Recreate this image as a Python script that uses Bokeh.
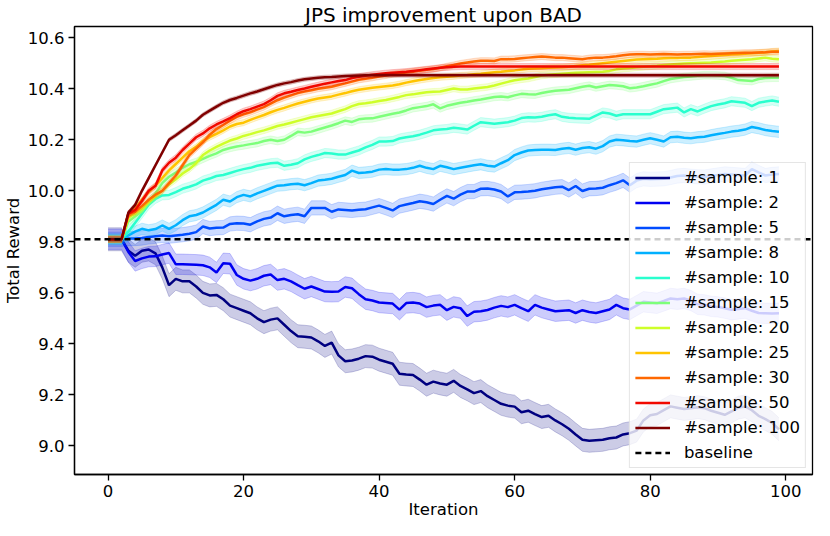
from bokeh.plotting import figure
from bokeh.models import (Range1d, Legend, LegendItem, ColumnDataSource,
                          FixedTicker, NumeralTickFormatter, Title)
from bokeh.embed import file_html
from bokeh.resources import INLINE

# ---------------- data ----------------
iterations = list(range(100))
sample_counts = [1, 2, 5, 8, 10, 15, 20, 25, 30, 50, 100]
baseline_reward = 9.81
x_ticks = [0, 20, 40, 60, 80, 100]
y_ticks = [9.0, 9.2, 9.4, 9.6, 9.8, 10.0, 10.2, 10.4, 10.6]

reward_s1 = [9.81, 9.81, 9.81, 9.765, 9.745, 9.765, 9.77, 9.755, 9.70, 9.63,
             9.655, 9.645, 9.645, 9.625, 9.60, 9.59, 9.592, 9.575, 9.55, 9.54,
             9.53, 9.52, 9.50, 9.485, 9.495, 9.50, 9.475, 9.45, 9.43, 9.428,
             9.425, 9.41, 9.392, 9.405, 9.355, 9.332, 9.335, 9.342, 9.352, 9.35,
             9.338, 9.33, 9.322, 9.283, 9.28, 9.278, 9.26, 9.24, 9.252, 9.245,
             9.24, 9.255, 9.235, 9.222, 9.207, 9.215, 9.195, 9.18, 9.165, 9.158,
             9.154, 9.132, 9.138, 9.125, 9.113, 9.118, 9.10, 9.085, 9.067, 9.045,
             9.024, 9.02, 9.022, 9.024, 9.03, 9.033, 9.045, 9.05, 9.06, 9.10,
             9.12, 9.125, 9.14, 9.155, 9.15, 9.145, 9.148, 9.152, 9.148, 9.138,
             9.13, 9.122, 9.135, 9.15, 9.155, 9.14, 9.118, 9.105, 9.09, 9.065]
reward_s2 = [9.81, 9.81, 9.81, 9.76, 9.725, 9.735, 9.742, 9.743, 9.75, 9.756,
             9.712, 9.712, 9.711, 9.71, 9.708, 9.70, 9.68, 9.716, 9.714, 9.67,
             9.655, 9.648, 9.655, 9.667, 9.672, 9.65, 9.655, 9.645, 9.63, 9.616,
             9.625, 9.615, 9.605, 9.604, 9.605, 9.623, 9.618, 9.595, 9.575, 9.57,
             9.562, 9.56, 9.558, 9.534, 9.56, 9.562, 9.558, 9.544, 9.55, 9.553,
             9.532, 9.545, 9.54, 9.509, 9.526, 9.528, 9.533, 9.542, 9.549, 9.544,
             9.553, 9.54, 9.528, 9.553, 9.542, 9.535, 9.528, 9.53, 9.532, 9.521,
             9.532, 9.525, 9.521, 9.528, 9.535, 9.553, 9.54, 9.535, 9.55, 9.565,
             9.562, 9.559, 9.568, 9.578, 9.575, 9.578, 9.57, 9.555, 9.553, 9.547,
             9.545, 9.54, 9.534, 9.537, 9.54, 9.53, 9.521, 9.52, 9.519, 9.52]
reward_s5 = [9.81, 9.81, 9.81, 9.813, 9.813, 9.815, 9.819, 9.822, 9.825, 9.822,
             9.825, 9.828, 9.832, 9.838, 9.86, 9.852, 9.855, 9.856, 9.87, 9.873,
             9.872, 9.867, 9.88, 9.89, 9.895, 9.912, 9.90, 9.905, 9.908, 9.90,
             9.933, 9.933, 9.933, 9.918, 9.927, 9.925, 9.923, 9.926, 9.928, 9.935,
             9.942, 9.933, 9.923, 9.94, 9.946, 9.952, 9.959, 9.955, 9.948, 9.965,
             9.98, 9.969, 9.985, 9.997, 9.997, 10.008, 10.009, 10.005, 9.997, 9.978,
             9.994, 9.995, 9.997, 10.0, 10.006, 10.01, 10.014, 10.016, 10.003, 10.019,
             9.999, 10.008, 10.009, 10.012, 10.022, 10.03, 10.041, 10.022, 10.04, 10.047,
             10.045, 10.046, 10.047, 10.052, 10.058, 10.06, 10.057, 10.055, 10.054, 10.058,
             10.062, 10.066, 10.064, 10.062, 10.06, 10.085, 10.072, 10.06, 10.064, 10.066]
reward_s8 = [9.81, 9.81, 9.81, 9.825, 9.84, 9.851, 9.845, 9.85, 9.864, 9.851,
             9.865, 9.885, 9.90, 9.905, 9.915, 9.93, 9.945, 9.965, 9.958, 9.975,
             9.984, 9.978, 9.99, 10.0, 10.01, 10.02, 10.022, 10.026, 10.028, 10.022,
             10.03, 10.04, 10.043, 10.047, 10.055, 10.062, 10.079, 10.07, 10.072, 10.075,
             10.083, 10.085, 10.083, 10.083, 10.085, 10.09, 10.098, 10.09, 10.085, 10.098,
             10.092, 10.085, 10.09, 10.095, 10.10, 10.104, 10.098, 10.095, 10.108, 10.12,
             10.14, 10.15, 10.158, 10.16, 10.161, 10.161, 10.16, 10.165, 10.168, 10.161,
             10.168, 10.171, 10.165, 10.175, 10.193, 10.20, 10.198, 10.195, 10.193, 10.20,
             10.206, 10.20, 10.193, 10.21, 10.212, 10.208, 10.206, 10.21, 10.212, 10.218,
             10.223, 10.227, 10.232, 10.235, 10.24, 10.25, 10.245, 10.238, 10.234, 10.231]
reward_s10 = [9.81, 9.81, 9.81, 9.84, 9.875, 9.91, 9.945, 9.968, 9.982, 9.984,
              9.995, 10.008, 10.016, 10.025, 10.04, 10.048, 10.058, 10.062, 10.07, 10.078,
              10.085, 10.09, 10.098, 10.103, 10.108, 10.11, 10.098, 10.102, 10.108, 10.123,
              10.133, 10.14, 10.148, 10.146, 10.142, 10.142, 10.15, 10.158, 10.17, 10.18,
              10.193, 10.193, 10.195, 10.205, 10.21, 10.214, 10.22, 10.228, 10.237, 10.24,
              10.242, 10.247, 10.244, 10.24, 10.255, 10.269, 10.266, 10.263, 10.266, 10.269,
              10.275, 10.285, 10.288, 10.287, 10.29, 10.296, 10.30, 10.29, 10.286, 10.284,
              10.283, 10.282, 10.295, 10.307, 10.303, 10.294, 10.30, 10.30, 10.30, 10.30,
              10.30, 10.31, 10.32, 10.323, 10.326, 10.307, 10.32, 10.311, 10.322, 10.332,
              10.338, 10.343, 10.351, 10.348, 10.345, 10.332, 10.345, 10.35, 10.354, 10.349]
reward_s15 = [9.81, 9.81, 9.81, 9.88, 9.90, 9.92, 9.96, 9.99, 10.03, 10.055,
              10.072, 10.09, 10.104, 10.113, 10.125, 10.137, 10.147, 10.16, 10.168, 10.174,
              10.178, 10.183, 10.187, 10.195, 10.20, 10.195, 10.20, 10.215, 10.231, 10.228,
              10.232, 10.24, 10.248, 10.256, 10.265, 10.275, 10.27, 10.28, 10.283, 10.284,
              10.29, 10.296, 10.302, 10.307, 10.315, 10.324, 10.328, 10.332, 10.339, 10.323,
              10.333, 10.339, 10.345, 10.349, 10.354, 10.358, 10.363, 10.368, 10.37, 10.367,
              10.374, 10.38, 10.378, 10.377, 10.383, 10.388, 10.392, 10.394, 10.396, 10.402,
              10.408, 10.412, 10.405, 10.41, 10.415, 10.413, 10.41, 10.402, 10.405, 10.41,
              10.416, 10.421, 10.43, 10.438, 10.442, 10.446, 10.448, 10.451, 10.453, 10.453,
              10.452, 10.45, 10.443, 10.434, 10.432, 10.43, 10.438, 10.442, 10.443, 10.443]
reward_s20 = [9.81, 9.81, 9.81, 9.895, 9.91, 9.93, 9.955, 9.978, 10.0, 10.025,
              10.045, 10.068, 10.085, 10.108, 10.14, 10.158, 10.172, 10.185, 10.197, 10.205,
              10.215, 10.222, 10.23, 10.237, 10.245, 10.254, 10.26, 10.267, 10.274, 10.281,
              10.288, 10.293, 10.298, 10.303, 10.312, 10.32, 10.332, 10.34, 10.343, 10.347,
              10.352, 10.356, 10.362, 10.368, 10.375, 10.378, 10.382, 10.386, 10.388, 10.389,
              10.395, 10.401, 10.397, 10.397, 10.401, 10.404, 10.407, 10.413, 10.42, 10.427,
              10.433, 10.437, 10.44, 10.446, 10.452, 10.455, 10.457, 10.459, 10.461, 10.463,
              10.464, 10.465, 10.466, 10.467, 10.47, 10.476, 10.479, 10.481, 10.484, 10.486,
              10.488, 10.49, 10.493, 10.495, 10.497, 10.499, 10.50, 10.501, 10.502, 10.503,
              10.505, 10.507, 10.51, 10.512, 10.514, 10.516, 10.519, 10.522, 10.518, 10.516]
reward_s25 = [9.81, 9.81, 9.81, 9.90, 9.93, 9.965, 9.995, 10.02, 10.05, 10.08,
              10.105, 10.13, 10.155, 10.172, 10.195, 10.21, 10.223, 10.237, 10.252, 10.262,
              10.267, 10.278, 10.288, 10.297, 10.308, 10.317, 10.325, 10.334, 10.342, 10.349,
              10.356, 10.362, 10.366, 10.37, 10.377, 10.383, 10.39, 10.396, 10.40, 10.404,
              10.407, 10.41, 10.413, 10.418, 10.424, 10.429, 10.434, 10.438, 10.442, 10.445,
              10.447, 10.449, 10.452, 10.454, 10.457, 10.459, 10.462, 10.465, 10.467, 10.47,
              10.472, 10.475, 10.478, 10.479, 10.48, 10.482, 10.483, 10.484, 10.486, 10.489,
              10.492, 10.494, 10.497, 10.50, 10.503, 10.506, 10.509, 10.512, 10.515, 10.516,
              10.517, 10.518, 10.52, 10.521, 10.521, 10.522, 10.522, 10.524, 10.526, 10.528,
              10.53, 10.532, 10.534, 10.535, 10.537, 10.539, 10.541, 10.543, 10.546, 10.548]
reward_s30 = [9.81, 9.81, 9.81, 9.91, 9.918, 9.94, 9.965, 9.985, 10.0, 10.03,
              10.06, 10.10, 10.14, 10.165, 10.19, 10.22, 10.242, 10.258, 10.275, 10.29,
              10.30, 10.308, 10.318, 10.328, 10.342, 10.355, 10.365, 10.374, 10.383, 10.389,
              10.394, 10.40, 10.404, 10.408, 10.415, 10.421, 10.428, 10.435, 10.439, 10.443,
              10.448, 10.452, 10.457, 10.461, 10.464, 10.467, 10.471, 10.474, 10.477, 10.482,
              10.488, 10.493, 10.499, 10.503, 10.507, 10.51, 10.51, 10.509, 10.516, 10.516,
              10.517, 10.52, 10.522, 10.524, 10.526, 10.524, 10.522, 10.522, 10.52, 10.518,
              10.516, 10.52, 10.522, 10.522, 10.524, 10.527, 10.531, 10.534, 10.535, 10.535,
              10.534, 10.535, 10.536, 10.535, 10.534, 10.535, 10.535, 10.536, 10.537, 10.536,
              10.537, 10.538, 10.539, 10.54, 10.541, 10.541, 10.542, 10.543, 10.545, 10.545]
reward_s50 = [9.81, 9.81, 9.81, 9.91, 9.925, 9.96, 10.0, 10.02, 10.08, 10.11,
              10.13, 10.16, 10.185, 10.21, 10.225, 10.245, 10.26, 10.272, 10.285, 10.30,
              10.312, 10.32, 10.33, 10.34, 10.355, 10.372, 10.382, 10.388, 10.395, 10.401,
              10.408, 10.414, 10.42, 10.425, 10.43, 10.434, 10.442, 10.447, 10.451, 10.455,
              10.458, 10.461, 10.463, 10.465, 10.467, 10.47, 10.473, 10.476, 10.479, 10.482,
              10.484, 10.486, 10.487, 10.487, 10.487, 10.487, 10.487, 10.487, 10.487, 10.487,
              10.487, 10.487, 10.487, 10.487, 10.487, 10.487, 10.487, 10.487, 10.487, 10.487,
              10.487, 10.487, 10.487, 10.487, 10.487, 10.487, 10.487, 10.487, 10.487, 10.487,
              10.487, 10.487, 10.487, 10.487, 10.487, 10.487, 10.487, 10.487, 10.487, 10.487,
              10.487, 10.487, 10.487, 10.487, 10.487, 10.487, 10.487, 10.487, 10.487, 10.487]
reward_s100 = [9.81, 9.81, 9.81, 9.915, 9.945, 10.0, 10.05, 10.1, 10.15, 10.2,
               10.218, 10.237, 10.256, 10.275, 10.298, 10.314, 10.33, 10.345, 10.356, 10.364,
               10.373, 10.382, 10.389, 10.398, 10.407, 10.415, 10.421, 10.426, 10.432, 10.437,
               10.44, 10.443, 10.445, 10.446, 10.448, 10.45, 10.451, 10.452, 10.453, 10.453,
               10.453, 10.453, 10.453, 10.453, 10.453, 10.453, 10.453, 10.453, 10.453, 10.453,
               10.453, 10.453, 10.453, 10.453, 10.453, 10.453, 10.453, 10.453, 10.453, 10.453,
               10.453, 10.453, 10.453, 10.453, 10.453, 10.453, 10.453, 10.453, 10.453, 10.453,
               10.453, 10.453, 10.453, 10.453, 10.453, 10.453, 10.453, 10.453, 10.453, 10.453,
               10.453, 10.453, 10.453, 10.453, 10.453, 10.453, 10.453, 10.453, 10.453, 10.453,
               10.453, 10.453, 10.453, 10.453, 10.453, 10.453, 10.453, 10.453, 10.453, 10.453]

# half-width of the shaded confidence band of each series
band_halfwidth = [0.045, 0.04, 0.028, 0.022, 0.018, 0.015, 0.013, 0.012, 0.012, 0.012, 0.008]

series_rewards = [reward_s1, reward_s2, reward_s5, reward_s8, reward_s10, reward_s15,
                  reward_s20, reward_s25, reward_s30, reward_s50, reward_s100]

# jet colormap sampled at 11 evenly spaced points
colors = ["#000080", "#0000f1", "#004cff", "#00b0ff", "#29ffce", "#7dff7a",
          "#ceff29", "#ffc400", "#ff6800", "#f10800", "#800000"]

FONT = "DejaVu Sans"
X_LO, X_HI = -4.95, 103.95
Y_LO, Y_HI = 8.888, 10.644

p = figure(width=814, height=520, output_backend="svg", toolbar_location=None,
           x_range=Range1d(X_LO, X_HI), y_range=Range1d(Y_LO, Y_HI),
           min_border_left=0, min_border_right=2, min_border_top=0, min_border_bottom=0)

p.title.text = "JPS improvement upon BAD"
p.title.text_font = FONT
p.title.text_font_size = "20px"
p.title.text_font_style = "normal"
p.title.text_color = "black"
p.title.align = "center"
p.title.standoff = 0
p.title.offset = 0

p.xgrid.visible = False
p.ygrid.visible = False
p.outline_line_color = "black"
p.outline_line_width = 1.3
p.outline_line_alpha = 1.0

for ax in (p.xaxis[0], p.yaxis[0]):
    ax.axis_line_color = "black"
    ax.axis_line_width = 1.3
    ax.major_tick_line_color = "black"
    ax.major_tick_line_width = 1.3
    ax.major_tick_out = 6
    ax.major_tick_in = 0
    ax.minor_tick_out = 0
    ax.minor_tick_in = 0
    ax.major_label_text_font = FONT
    ax.major_label_text_font_size = "16.5px"
    ax.major_label_text_color = "black"
    ax.major_label_standoff = 4
    ax.axis_label_text_font = FONT
    ax.axis_label_text_font_size = "16.5px"
    ax.axis_label_text_font_style = "normal"
    ax.axis_label_text_color = "black"
    ax.axis_label_standoff = 2

p.xaxis.ticker = FixedTicker(ticks=x_ticks)
p.yaxis.ticker = FixedTicker(ticks=y_ticks)
p.yaxis.formatter = NumeralTickFormatter(format="0.0")
p.yaxis.axis_label = "Total Reward"

# x-axis title as a compact panel below the axis
x_title = Title(text="Iteration", align="center", text_font=FONT,
                text_font_size="16.5px", text_font_style="normal",
                text_color="black", standoff=0, offset=0,
                text_line_height=0.8, vertical_align="top")
p.add_layout(x_title, "below")

items = []
for n, ys, err, c in zip(sample_counts, series_rewards, band_halfwidth, colors):
    src = ColumnDataSource(dict(
        x=iterations, y=ys,
        lo=[v - err for v in ys], hi=[v + err for v in ys]))
    p.varea(x="x", y1="lo", y2="hi", source=src, fill_color=c, fill_alpha=0.2)
    p.line(x="x", y="lo", source=src, line_color=c, line_alpha=0.2, line_width=1)
    p.line(x="x", y="hi", source=src, line_color=c, line_alpha=0.2, line_width=1)
    r = p.line(x="x", y="y", source=src, line_color=c, line_width=2.5)
    items.append(LegendItem(label=f"#sample: {n}", renderers=[r]))

# horizontal baseline across the whole axes
base_r = p.line(x=[X_LO, X_HI], y=[baseline_reward, baseline_reward],
                line_color="black", line_dash="6 4", line_width=2.3)
items.append(LegendItem(label="baseline", renderers=[base_r]))

legend = Legend(items=items, location="bottom_right", margin=6,
                label_text_font=FONT, label_text_font_size="16.5px",
                label_text_color="black",
                glyph_width=35, glyph_height=19, label_height=19,
                spacing=6, padding=5, label_standoff=14,
                border_line_color="#cccccc", border_line_width=1,
                background_fill_color="white", background_fill_alpha=0.8)
p.add_layout(legend)

open("out.html", "w").write(file_html(p, INLINE))
